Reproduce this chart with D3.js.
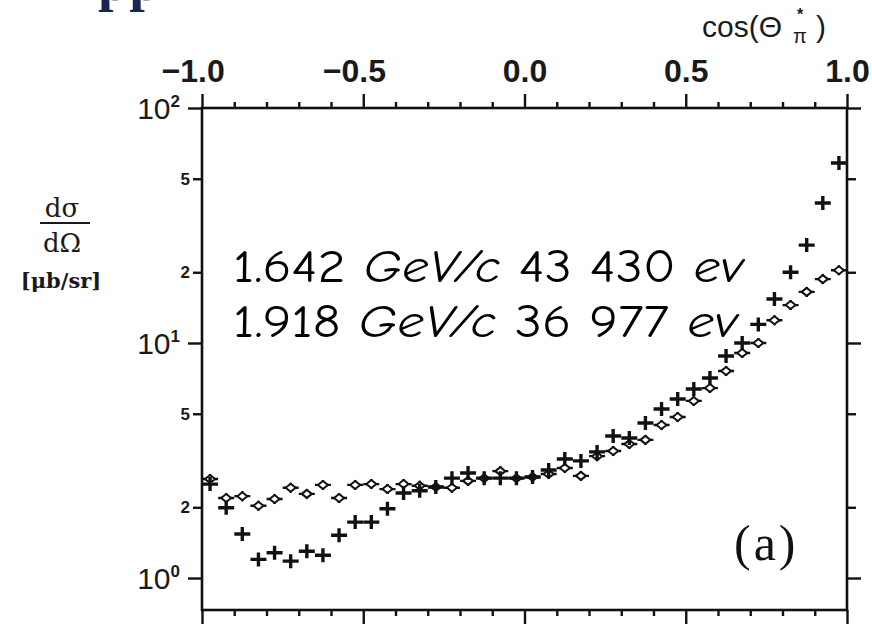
<!DOCTYPE html>
<html>
<head>
<meta charset="utf-8">
<script src="https://cdn.jsdelivr.net/npm/d3@7"></script>
<style>
  body { margin: 0; background: #fff; }
  svg { display: block; }
</style>
</head>
<body>
<div id="vis-container"></div>
<script>
const width = 872;
const height = 624;
const plot = { left: 202, right: 847, top: 108, bottom: 610 };

// bin centres in cos(theta*)
const binCenters = [-0.975, -0.925, -0.875, -0.825, -0.775, -0.725, -0.675, -0.625, -0.575, -0.525,
                    -0.475, -0.425, -0.375, -0.325, -0.275, -0.225, -0.175, -0.125, -0.075, -0.025,
                     0.025,  0.075,  0.125,  0.175,  0.225,  0.275,  0.325,  0.375,  0.425,  0.475,
                     0.525,  0.575,  0.625,  0.675,  0.725,  0.775,  0.825,  0.875,  0.925,  0.975];

// solid crosses
const crossValues = [2.51, 1.99, 1.54, 1.20, 1.28, 1.18, 1.30, 1.25, 1.52, 1.73,
                     1.73, 1.97, 2.30, 2.35, 2.44, 2.66, 2.80, 2.66, 2.66, 2.66,
                     2.69, 2.88, 3.21, 3.15, 3.44, 4.02, 3.94, 4.57, 5.24, 5.78,
                     6.37, 7.10, 8.80, 10.0, 12.0, 15.4, 20.0, 26.1, 39.4, 58.3];

// open diamonds
const diamondValues = [2.64, 2.19, 2.23, 2.03, 2.17, 2.42, 2.28, 2.49, 2.19, 2.49,
                       2.51, 2.39, 2.51, 2.47, 2.44, 2.42, 2.59, 2.66, 2.85, 2.66,
                       2.69, 2.77, 2.94, 2.72, 3.30, 3.47, 3.72, 3.87, 4.48, 4.84,
                       5.67, 6.43, 7.60, 9.07, 10.0, 12.5, 14.5, 16.5, 18.7, 20.4];

const xMajorTicks = [-1, -0.5, 0, 0.5, 1];
const xMinorTicks = [-0.9, -0.8, -0.7, -0.6, -0.4, -0.3, -0.2, -0.1, 0.1, 0.2, 0.3, 0.4, 0.6, 0.7, 0.8, 0.9];
const yMajorTicks = [1, 10, 100];
const yMinorTicks = [2, 5, 20, 50];

const annotationLines = [
  [["1.642 ", false], ["GeV/c", true], [" 43 430 ", false], ["ev", true]],
  [["1.918 ", false], ["GeV/c", true], [" 36 977 ", false], ["ev", true]]
];

const svg = d3.select("#vis-container")
  .append("svg")
  .attr("width", width)
  .attr("height", height);

svg.append("rect").attr("width", width).attr("height", height).attr("fill", "#fff");

const x = d3.scaleLinear().domain([-1, 1]).range([plot.left, plot.right]);
// 10^0 sits at y=578, one decade = 235px
const y = d3.scaleLog().domain([0.731, 100]).range([plot.bottom, plot.top]);

const sansFont = "'Liberation Sans', Arial, sans-serif";
const serifFont = "'DejaVu Serif', 'Liberation Serif', serif";

function styleAxis(g) {
  g.select(".domain").remove();
  g.selectAll(".tick line").attr("stroke", "#111").attr("stroke-width", 2.4);
}

// fragment of the title cut off at the top
svg.append("text")
  .attr("x", 98).attr("y", 0)
  .attr("font-family", "'Liberation Serif', serif")
  .attr("font-size", 56)
  .attr("font-weight", "bold")
  .attr("fill", "#1b2450")
  .text("pp");

// top axis
const topMajor = svg.append("g")
  .attr("transform", `translate(0,${plot.top})`)
  .call(d3.axisTop(x).tickValues(xMajorTicks).tickSize(14).tickPadding(12)
    .tickFormat(d => d3.format(".1f")(Math.abs(d))))
  .call(styleAxis);

topMajor.selectAll(".tick text")
  .attr("font-family", sansFont)
  .attr("font-size", 32)
  .attr("font-weight", "bold")
  .attr("fill", "#1a1a1a");

topMajor.selectAll(".tick").filter(d => d < 0)
  .append("text")
  .attr("x", -22).attr("y", -26)
  .attr("text-anchor", "end")
  .attr("font-family", sansFont)
  .attr("font-size", 32)
  .attr("font-weight", "bold")
  .attr("fill", "#1a1a1a")
  .text("\u2212");

svg.append("g")
  .attr("transform", `translate(0,${plot.top})`)
  .call(d3.axisTop(x).tickValues(xMinorTicks).tickSize(6).tickFormat(""))
  .call(styleAxis);

// bottom axis
svg.append("g")
  .attr("transform", `translate(0,${plot.bottom})`)
  .call(d3.axisBottom(x).tickValues(xMajorTicks).tickSize(14).tickFormat(""))
  .call(styleAxis);

svg.append("g")
  .attr("transform", `translate(0,${plot.bottom})`)
  .call(d3.axisBottom(x).tickValues(xMinorTicks).tickSize(6).tickFormat(""))
  .call(styleAxis);

// left axis
const leftMajor = svg.append("g")
  .attr("transform", `translate(${plot.left},0)`)
  .call(d3.axisLeft(y).tickValues(yMajorTicks).tickSize(14).tickPadding(8).tickFormat(""))
  .call(styleAxis);

leftMajor.selectAll(".tick text").each(function(d) {
  const t = d3.select(this)
    .attr("font-family", sansFont)
    .attr("font-size", 30)
    .attr("fill", "#1a1a1a")
    .attr("dy", "0.36em");
  t.append("tspan").text("10");
  t.append("tspan")
    .attr("font-size", 17)
    .attr("font-weight", "bold")
    .attr("dy", -12)
    .text(Math.round(Math.log10(d)));
});

const leftMinor = svg.append("g")
  .attr("transform", `translate(${plot.left},0)`)
  .call(d3.axisLeft(y).tickValues(yMinorTicks).tickSize(9).tickPadding(3)
    .tickFormat(d => String(d).charAt(0)))
  .call(styleAxis);

leftMinor.selectAll(".tick text")
  .attr("font-family", sansFont)
  .attr("font-size", 17)
  .attr("font-weight", "bold")
  .attr("fill", "#1a1a1a");

// right axis
svg.append("g")
  .attr("transform", `translate(${plot.right},0)`)
  .call(d3.axisRight(y).tickValues(yMajorTicks).tickSize(14).tickFormat(""))
  .call(styleAxis);

svg.append("g")
  .attr("transform", `translate(${plot.right},0)`)
  .call(d3.axisRight(y).tickValues(yMinorTicks).tickSize(9).tickFormat(""))
  .call(styleAxis);

// frame
svg.append("rect")
  .attr("x", plot.left).attr("y", plot.top)
  .attr("width", plot.right - plot.left)
  .attr("height", plot.bottom - plot.top)
  .attr("fill", "none")
  .attr("stroke", "#111")
  .attr("stroke-width", 2.6);

// x axis title
const xTitle = svg.append("g")
  .attr("font-family", sansFont)
  .attr("fill", "#1a1a1a");
xTitle.append("text").attr("x", 702).attr("y", 37).attr("font-size", 30).text("cos(\u0398");
xTitle.append("text").attr("x", 800).attr("y", 20).attr("font-size", 16).attr("text-anchor", "middle").attr("font-weight", "bold").text("*");
xTitle.append("text").attr("x", 800).attr("y", 43).attr("font-size", 20).attr("text-anchor", "middle").text("\u03c0");
xTitle.append("text").attr("x", 816).attr("y", 37).attr("font-size", 30).text(")");

// y axis title
const yTitle = svg.append("g")
  .attr("font-family", serifFont)
  .attr("fill", "#1a1a1a")
  .attr("text-anchor", "middle");
yTitle.append("text").attr("x", 62).attr("y", 217).attr("font-size", 26).text("d\u03c3");
yTitle.append("line").attr("x1", 40).attr("x2", 90).attr("y1", 223).attr("y2", 223)
  .attr("stroke", "#1a1a1a").attr("stroke-width", 2);
yTitle.append("text").attr("x", 62).attr("y", 252).attr("font-size", 26).text("d\u03a9");
yTitle.append("text").attr("x", 61).attr("y", 288).attr("font-size", 21).attr("font-weight", "bold").text("[\u03bcb/sr]");

// data points
const points = binCenters.map((c, i) => ({ c: c, a: crossValues[i], b: diamondValues[i] }));

const diamonds = svg.append("g").selectAll("g")
  .data(points)
  .enter()
  .append("g")
  .attr("transform", d => `translate(${x(d.c)},${y(d.b)})`);

diamonds.append("path")
  .attr("d", "M-8,0H8M0,-5V5")
  .attr("stroke", "#111")
  .attr("stroke-width", 2.4);

diamonds.append("path")
  .attr("d", "M-5,0L0,-4L5,0L0,4Z")
  .attr("fill", "#fff")
  .attr("stroke", "#111")
  .attr("stroke-width", 2);

svg.append("g").selectAll("path")
  .data(points)
  .enter()
  .append("path")
  .attr("transform", d => `translate(${x(d.c)},${y(d.a)})`)
  .attr("d", "M-8,0H8M0,-7V7")
  .attr("stroke", "#111")
  .attr("stroke-width", 3.4);

// annotation
const annFont = "'Comic Sans MS', 'Comic Neue', 'Open Sans', sans-serif";
const annBaselines = [282, 337];
const annWidths = [510, 504];
annotationLines.forEach((parts, i) => {
  const t = svg.append("text")
    .attr("x", 233)
    .attr("y", annBaselines[i])
    .attr("font-family", annFont)
    .attr("font-size", 47)
    .attr("font-weight", 500)
    .attr("fill", "#000")
    .attr("textLength", annWidths[i])
    .attr("lengthAdjust", "spacingAndGlyphs");
  parts.forEach(p => {
    t.append("tspan")
      .attr("font-style", p[1] ? "italic" : "normal")
      .text(p[0]);
  });
});

// panel label
svg.append("text")
  .attr("x", 734).attr("y", 560)
  .attr("font-family", "'Liberation Serif', 'DejaVu Serif', serif")
  .attr("font-size", 50)
  .attr("letter-spacing", 3)
  .attr("fill", "#111")
  .text("(a)");
</script>
</body>
</html>
